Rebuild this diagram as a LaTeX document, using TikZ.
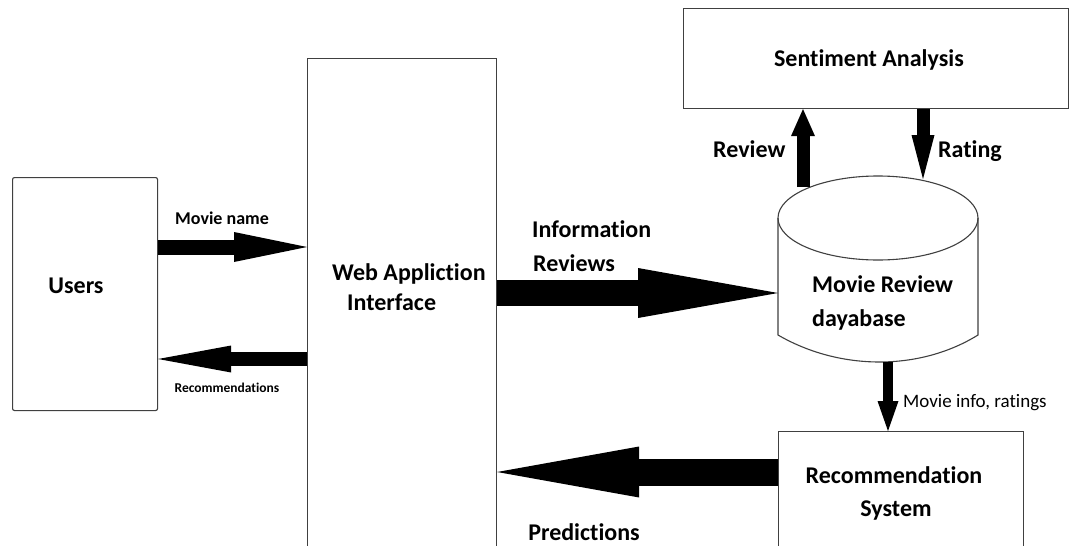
\documentclass[tikz,border=0pt]{standalone}
\usepackage{fontspec}
\setmainfont{Carlito}[Ligatures=NoCommon]
\usetikzlibrary{arrows.meta}
\tikzset{
  box/.style={draw=black!75, line width=1.1pt, fill=white, inner sep=0pt, anchor=north west},
  lbl/.style={inner sep=0pt, font=\bfseries\fontsize{24}{28}\selectfont},
  blk/.style n args={3}{line width=#1, draw=black,
    -{Triangle[length=#2, width=#3, line width=0pt, fill=black]}},
}
\begin{document}
\begin{tikzpicture}[x=1pt, y=-1pt]
\useasboundingbox (0,0) rectangle (1069,546);
\clip (0,0) rectangle (1069,546);
\fill[white] (0,0) rectangle (1069,546);

% boxes
\node[box, rounded corners=2pt, minimum width=145pt, minimum height=233pt] (users) at (12,177) {};
\node[box, minimum width=189pt, minimum height=520pt] (web) at (307,58) {};
\node[box, minimum width=385pt, minimum height=100pt] (sent) at (683,8) {};
\node[box, minimum width=245pt, minimum height=140pt] (rec) at (778,431) {};

% database cylinder
\begin{scope}[draw=black!75, line width=1.1pt]
  \draw (778,218) -- (778,335) .. controls (840,371) and (920,371) .. (978,335) -- (978,218);
  \draw (878,218) ellipse [x radius=100, y radius=42];
\end{scope}
\coordinate (dbrev) at (803,187);
\coordinate (dbrat) at (923,179);
\coordinate (dbwest) at (778,293);
\coordinate (dbsouth) at (888,362);

% texts
\node[lbl, anchor=base] (tusers) at (76,293) {Users};
\node[lbl, anchor=base west] (tweb1) at (332,280) {Web Appliction};
\node[lbl, anchor=base west] (tweb2) at (347,310) {Interface};
\node[lbl, anchor=base] (tsent) at (869,66) {Sentiment Analysis};
\node[lbl, anchor=base west] (tdb1) at (812,292) {Movie Review};
\node[lbl, anchor=base west] (tdb2) at (812,326) {dayabase};
\node[lbl, anchor=base] (trec1) at (894,483) {Recommendation};
\node[lbl, anchor=base] (trec2) at (896,516) {System};

\node[lbl, font=\bfseries\fontsize{18}{22}\selectfont, anchor=base] (lmovie) at (222,224) {Movie name};
\node[lbl, font=\bfseries\fontsize{13.5}{16}\selectfont, anchor=base] (lrecs) at (227,392) {Recommendations};
\node[lbl, anchor=base west] (linfo1) at (532,237) {Information};
\node[lbl, anchor=base west] (linfo2) at (533,271) {Reviews};
\node[lbl, anchor=base west] (lreview) at (713,157) {Review};
\node[lbl, anchor=base west] (lrating) at (938,157) {Rating};
\node[lbl, font=\fontsize{19}{22}\selectfont, anchor=base west] (lmi) at (903,407) {Movie info, ratings};
\node[lbl, anchor=base] (lpred) at (584,540) {Predictions};

% connectors
\draw[blk={15pt}{73pt}{30pt}] (users.east |- 0,247) -- (web.west |- 0,247);
\draw[blk={14pt}{73pt}{27pt}] (web.west |- 0,359) -- (users.east |- 0,359);
\draw[blk={26pt}{140pt}{50pt}] (web.east |- dbwest) -- (dbwest);
\draw[blk={27pt}{142pt}{51pt}] (rec.west |- 0,472) -- (web.east |- 0,472);
\draw[blk={13pt}{27pt}{24pt}] (dbrev) -- (dbrev |- sent.south);
\draw[blk={13pt}{44pt}{23pt}] (dbrat |- sent.south) -- (dbrat);
\draw[blk={10pt}{30pt}{21pt}] (dbsouth) -- (dbsouth |- rec.north);
\end{tikzpicture}
\end{document}
